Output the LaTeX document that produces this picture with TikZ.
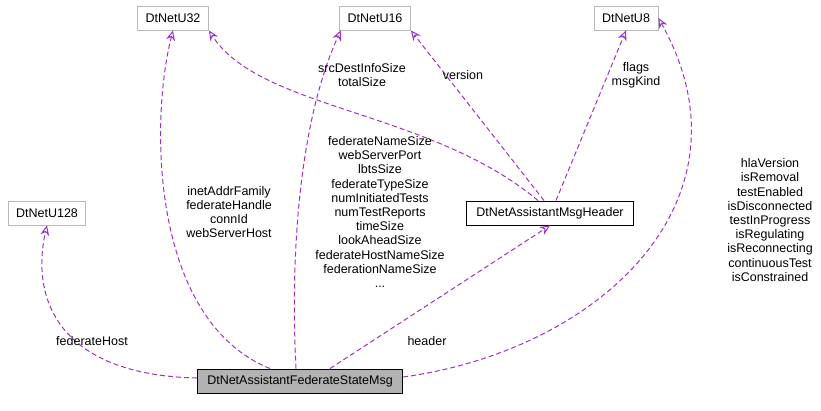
\documentclass[tikz,border=0pt]{standalone}
\usepackage{fontspec}
\setmainfont{Liberation Sans}
\usetikzlibrary{arrows.meta}
\definecolor{edgepurple}{HTML}{9A32CD}
\begin{document}
\begin{tikzpicture}[%
	x=1pt, y=-1pt,%
	every node/.style={font=\fontsize{12.5}{14.2}\selectfont},%
	classbox/.style={draw=gray!55, line width=0.9pt, minimum height=24pt, inner xsep=8pt},%
	mainbox/.style={draw=black, line width=0.9pt, minimum height=24pt, inner xsep=10pt},%
	uses/.style={draw=edgepurple, line width=1pt, dash pattern=on 5pt off 3pt, -{Stealth[open, length=10pt, width=9pt]}},%
	edgelabel/.style={align=center, inner sep=1pt},%
	]
\useasboundingbox (0,0) rectangle (821,411);
%%% classes
	\node [classbox] (u32) at (173,18) {DtNetU32};
	\node [classbox] (u16) at (375,18) {DtNetU16};
	\node [classbox] (u8) at (626,18) {DtNetU8};
	\node [classbox] (u128) at (47,213) {DtNetU128};
	\node [mainbox] (header) at (550,213) {DtNetAssistantMsgHeader};
	\node [mainbox, fill=gray!60] (msg) at (300,381) {DtNetAssistantFederateStateMsg};
%%% classes
%%% edges
	\draw [uses] (msg.west) ++(0,-3) .. controls (60,375) and (30,300) .. (u128.south);
	\draw [uses] (msg.north) ++(-30,0) .. controls (150,320) and (150,120) .. (u32.south);
	\draw [uses] (msg.north) ++(-4,0) .. controls (290,250) and (300,120) .. (u16.200);
	\draw [uses] (msg.north) ++(30,0) -- (header.south);
	\draw [uses] (msg.east) ++(0,-4) .. controls (600,350) and (760,200) .. (u8.east);
	\draw [uses] (header.north) ++(-12,0) .. controls (430,110) and (260,110) .. (u32.south east);
	\draw [uses] (header.north) ++(-6,0) -- (u16.south east);
	\draw [uses] (header.north) ++(6,0) -- (u8.south);
%%% edges
%%% labels
	\node [edgelabel] (lhost) at (92,341) {federateHost};
	\node [edgelabel] (lu32) at (229,212) {inetAddrFamily\\federateHandle\\connId\\webServerHost};
	\node [edgelabel] (lu16) at (380,212) {federateNameSize\\webServerPort\\lbtsSize\\federateTypeSize\\numInitiatedTests\\numTestReports\\timeSize\\lookAheadSize\\federateHostNameSize\\federationNameSize\\...};
	\node [edgelabel] (lheader) at (427,341) {header};
	\node [edgelabel] (lu8) at (770,220) {hlaVersion\\isRemoval\\testEnabled\\isDisconnected\\testInProgress\\isRegulating\\isReconnecting\\continuousTest\\isConstrained};
	\node [edgelabel] (lsize) at (362,75) {srcDestInfoSize\\totalSize};
	\node [edgelabel] (lversion) at (463,75) {version};
	\node [edgelabel] (lflags) at (636,75) {flags\\msgKind};
%%% labels
\end{tikzpicture}
\end{document}
